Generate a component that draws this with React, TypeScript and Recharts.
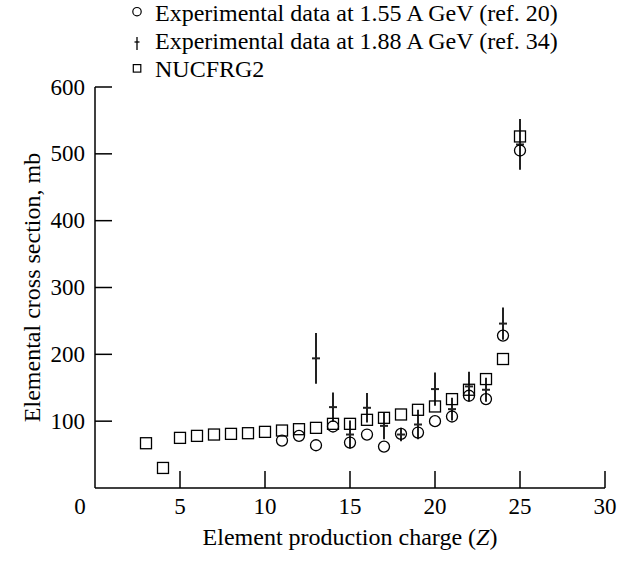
import React from 'react';
import { ScatterChart, Scatter, XAxis, YAxis, ErrorBar, Legend, Label } from 'recharts';

// element charge Z for each series
const chargeNucfrg = [3, 4, 5, 6, 7, 8, 9, 10, 11, 12, 13, 14, 15, 16, 17, 18, 19, 20, 21, 22, 23, 24, 25];
const nucfrg2 = [67, 30, 75, 78, 80, 81, 82, 84, 86, 88, 90, 96, 96, 102, 105, 110, 117, 122, 133, 147, 163, 193, 526];

const chargeExp155 = [11, 12, 13, 14, 15, 16, 17, 18, 19, 20, 21, 22, 23, 24, 25];
const exp155 = [71, 78, 64, 92, 68, 80, 62, 81, 83, 100, 107, 138, 133, 228, 505];

const chargeExp188 = [13, 14, 15, 16, 17, 18, 19, 20, 21, 22, 23, 24, 25];
const exp188 = [194, 121, 80, 120, 93, 80, 95, 148, 118, 152, 147, 246, 514];
const exp188Err = [38, 22, 21, 22, 20, 10, 22, 25, 17, 22, 18, 24, 38];

const xTicks = [0, 5, 10, 15, 20, 25, 30];
const yTicks = [100, 200, 300, 400, 500, 600];

const seriesNames = [
  'Experimental data at 1.55 A GeV (ref. 20)',
  'Experimental data at 1.88 A GeV (ref. 34)',
  'NUCFRG2',
];

const FONT = '"Liberation Serif", "DejaVu Serif", serif';
const TICK_LEN = 17;

const nucfrgData = chargeNucfrg.map((z, i) => ({ z, v: nucfrg2[i] }));
const exp155Data = chargeExp155.map((z, i) => ({ z, v: exp155[i] }));
const exp188Data = chargeExp188.map((z, i) => ({ z, v: exp188[i], err: exp188Err[i] }));

const CircleMark = (props: any) => (
  <circle cx={props.cx} cy={props.cy} r={5.5} fill="none" stroke="#000" strokeWidth={1.3} />
);

const SquareMark = (props: any) => (
  <rect x={props.cx - 5.5} y={props.cy - 5.5} width={11} height={11} fill="none" stroke="#000" strokeWidth={1.3} />
);

const CrossMark = (props: any) => (
  <line x1={props.cx - 4} x2={props.cx + 4} y1={props.cy} y2={props.cy} stroke="#222" strokeWidth={2} />
);

const YTick = ({ x, y, payload }: any) => (
  <g>
    <line x1={x + 10} x2={x + 10 + TICK_LEN} y1={y} y2={y} stroke="#000" strokeWidth={1.5} />
    <text x={x} y={y} textAnchor="end" dominantBaseline="central" fontFamily={FONT} fontSize={23} fill="#000">
      {payload.value}
    </text>
  </g>
);

const XTick = ({ x, y, payload }: any) => (
  <g>
    {payload.value !== 0 && (
      <line x1={x} x2={x} y1={y - 18} y2={y - 18 - TICK_LEN} stroke="#000" strokeWidth={1.5} />
    )}
    <text
      x={payload.value === 0 ? x - 15 : x}
      y={y}
      textAnchor="middle"
      dominantBaseline="central"
      fontFamily={FONT}
      fontSize={23}
      fill="#000"
    >
      {payload.value}
    </text>
  </g>
);

const YTitle = ({ viewBox }: any) => {
  const cx = viewBox.x - 3;
  const cy = viewBox.y + viewBox.height / 2;
  return (
    <text
      x={cx}
      y={cy}
      transform={`rotate(-90, ${cx}, ${cy})`}
      textAnchor="middle"
      dominantBaseline="central"
      fontFamily={FONT}
      fontSize={24}
      fill="#000"
    >
      Elemental cross section, mb
    </text>
  );
};

const XTitle = ({ viewBox }: any) => (
  <text
    x={viewBox.x + viewBox.width / 2}
    y={537}
    textAnchor="middle"
    dominantBaseline="central"
    fontFamily={FONT}
    fontSize={24}
    fill="#000"
  >
    Element production charge (<tspan fontStyle="italic">Z</tspan>)
  </text>
);

const LegendBox = () => (
  <svg width={631} height={84}>
    <circle cx={137} cy={11.7} r={4.2} fill="none" stroke="#000" strokeWidth={1.2} />
    <line x1={137} x2={137} y1={37} y2={50} stroke="#000" strokeWidth={1.3} />
    <line x1={134.5} x2={139.5} y1={42} y2={42} stroke="#000" strokeWidth={1.3} />
    <rect x={133.3} y={64.6} width={7.5} height={7.5} fill="none" stroke="#000" strokeWidth={1.2} />
    {seriesNames.map((name, i) => (
      <text key={name} x={155} y={20.7 + i * 28.3} fontFamily={FONT} fontSize={24} fill="#000">
        {name}
      </text>
    ))}
  </svg>
);

export default function App() {
  return (
    <div style={{ position: 'absolute', left: 0, top: 0, width: 631, height: 561, background: '#fff' }}>
      <ScatterChart width={631} height={561} margin={{ top: 87, right: 26, bottom: 43, left: 35 }}>
        <XAxis
          type="number"
          dataKey="z"
          domain={[0, 30]}
          ticks={xTicks}
          interval={0}
          height={30}
          tickSize={0}
          tickMargin={18}
          tickLine={false}
          tick={<XTick />}
          axisLine={{ stroke: '#000', strokeWidth: 1.5 }}
        >
          <Label content={<XTitle />} />
        </XAxis>
        <YAxis
          type="number"
          dataKey="v"
          domain={[0, 600]}
          ticks={yTicks}
          interval={0}
          width={60}
          tickSize={0}
          tickMargin={10}
          tickLine={false}
          tick={<YTick />}
          axisLine={{ stroke: '#000', strokeWidth: 1.5 }}
        >
          <Label content={<YTitle />} />
        </YAxis>
        <Legend
          layout="vertical"
          align="center"
          verticalAlign="middle"
          wrapperStyle={{ left: 0, top: 0, width: 631, height: 84 }}
          content={<LegendBox />}
        />
        <Scatter name={seriesNames[1]} data={exp188Data} shape={<CrossMark />} isAnimationActive={false}>
          <ErrorBar dataKey="err" direction="y" width={0} stroke="#222" strokeWidth={2} isAnimationActive={false} />
        </Scatter>
        <Scatter name={seriesNames[2]} data={nucfrgData} shape={<SquareMark />} isAnimationActive={false} />
        <Scatter name={seriesNames[0]} data={exp155Data} shape={<CircleMark />} isAnimationActive={false} />
      </ScatterChart>
    </div>
  );
}
